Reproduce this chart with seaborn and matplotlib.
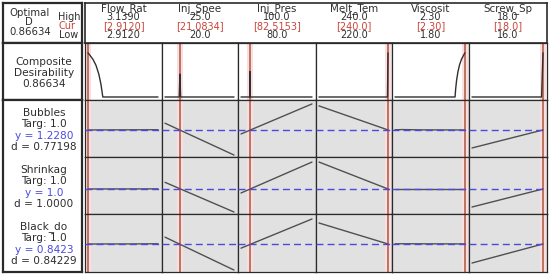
import matplotlib
matplotlib.use("Agg")
import matplotlib.pyplot as plt
import seaborn as sns
import numpy as np

# ---------------- data ----------------
factors = ["Flow_Rat", "Inj_Spee", "Inj_Pres", "Melt_Tem", "Viscosit", "Screw_Sp"]
high_labels = ["3.1390", "25.0", "100.0", "240.0", "2.30", "18.0"]
cur_labels = ["[2.9120]", "[21.0834]", "[82.5153]", "[240.0]", "[2.30]", "[18.0]"]
low_labels = ["2.9120", "20.0", "80.0", "220.0", "1.80", "16.0"]
low = [2.912, 20.0, 80.0, 220.0, 1.80, 16.0]
high = [3.139, 25.0, 100.0, 240.0, 2.30, 18.0]
cur = [2.912, 21.0834, 82.5153, 240.0, 2.30, 18.0]

optimal_d = "0.86634"

responses = ["Bubbles", "Shrinkag", "Black_do"]
targets = ["1.0", "1.0", "1.0"]
resp_y = [1.2280, 1.0, 0.8423]
resp_y_labels = ["1.2280", "1.0", "0.8423"]
resp_d_labels = ["0.77198", "1.0000", "0.84229"]

# composite desirability curves (x, d) per factor
comp_x = [
    [2.912, 2.918, 2.928, 2.938, 2.947, 2.954, 2.960, 3.139],
    [20.0, 21.03, 21.0834, 21.13, 25.0],
    [80.0, 82.45, 82.5153, 82.58, 100.0],
    [220.0, 239.85, 240.0],
    [1.80, 2.229, 2.233, 2.24, 2.25, 2.262, 2.275, 2.29, 2.30],
    [16.0, 17.96, 18.0],
]
comp_d = [
    [0.866, 0.82, 0.74, 0.62, 0.45, 0.25, 0.0, 0.0],
    [0.0, 0.0, 0.45, 0.0, 0.0],
    [0.0, 0.0, 0.50, 0.0, 0.0],
    [0.0, 0.0, 0.866],
    [0.0, 0.0, 0.15, 0.33, 0.50, 0.64, 0.74, 0.82, 0.866],
    [0.0, 0.0, 0.866],
]

# response curves (x, y) per factor
bubbles_x = [[2.912, 3.139], [20, 25], [80, 100], [220, 240], [1.8, 1.85, 2.0, 2.3], [16, 18]]
bubbles_y = [[1.228, 1.234], [1.40, 0.59], [1.126, 1.89], [1.84, 1.228], [1.232, 1.238, 1.230, 1.228], [0.77, 1.228]]
shrink_x = [[2.912, 3.139], [20, 25], [80, 100], [220, 240], [1.8, 2.3], [16, 18]]
shrink_y = [[1.0, 1.002], [1.14, 0.515], [0.915, 1.567], [1.567, 1.0], [1.0, 1.0], [0.62, 1.0]]
black_x = [[2.912, 3.05, 3.139], [20, 25], [80, 100], [220, 240], [1.8, 1.85, 2.3], [16, 18]]
black_y = [[0.842, 0.843, 0.846], [0.96, 0.393], [0.77, 1.273], [1.204, 0.8423], [0.845, 0.846, 0.843], [0.514, 0.8423]]
resp_x = [bubbles_x, shrink_x, black_x]
resp_curves = [bubbles_y, shrink_y, black_y]

# ---------------- layout ----------------
sns.set_style("white")
plt.rcParams["font.family"] = ["DejaVu Sans"]
W, H = 550, 277
fig = plt.figure(figsize=(W / 100, H / 100), dpi=100)
fig.patch.set_facecolor("white")

col_b = [85, 162, 238, 316, 392, 469, 547]
row_b = [43, 100, 157, 214, 272]
row_ylim = [(-0.059, 1.059), (0.54, 1.99), (0.473, 1.673), (0.359, 1.359)]

TXT = "#2e2e2e"
RED = "#c8453a"
CURC = "#a8583a"
PINK = "#fcdde2"
BLUE = "#4a4ae0"
GRID = "#2a2a2a"
GRAYBG = "#e1e1e1"
FS = 7
FSL = 7.6

def add_px_axes(x0, y0, x1, y1):
    return fig.add_axes([x0 / W, 1 - y1 / H, (x1 - x0) / W, (y1 - y0) / H])


def fx(px):
    return px / W


def fy(py):
    return 1 - py / H


# header box
hax = add_px_axes(85, 3, 547, 43)
hax.set_xticks([]); hax.set_yticks([])
for s in hax.spines.values():
    s.set_color(GRID); s.set_linewidth(1.2)

for c, name in enumerate(factors):
    cx = (col_b[c] + col_b[c + 1]) / 2
    fig.text(fx(cx), fy(8.5), name, ha="center", va="center", fontsize=FS + 0.4, color=TXT)
    fig.text(fx(cx), fy(17.5), high_labels[c], ha="center", va="center", fontsize=FS, color=TXT)
    fig.text(fx(cx), fy(26), cur_labels[c], ha="center", va="center", fontsize=FS, color=RED)
    fig.text(fx(cx), fy(34.5), low_labels[c], ha="center", va="center", fontsize=FS, color=TXT)

# left panel boxes
for (y0, y1) in [(3, 43), (43, 100), (100, 272)]:
    la = add_px_axes(3, y0, 82, y1)
    la.set_xticks([]); la.set_yticks([])
    for s in la.spines.values():
        s.set_color(GRID); s.set_linewidth(1.6)

fig.text(fx(30), fy(12.5), "Optimal", ha="center", va="center", fontsize=FS + 0.3, color=TXT)
fig.text(fx(29), fy(22), "D", ha="center", va="center", fontsize=FS + 0.3, color=TXT)
fig.text(fx(30), fy(32), optimal_d, ha="center", va="center", fontsize=FS + 0.3, color=TXT)
fig.text(fx(69), fy(17.5), "High", ha="center", va="center", fontsize=FS, color=TXT)
fig.text(fx(67), fy(26), "Cur", ha="center", va="center", fontsize=FS, color=RED)
fig.text(fx(69), fy(34.5), "Low", ha="center", va="center", fontsize=FS, color=TXT)

fig.text(fx(44), fy(62), "Composite", ha="center", va="center", fontsize=FSL, color=TXT)
fig.text(fx(44), fy(73), "Desirability", ha="center", va="center", fontsize=FSL, color=TXT)
fig.text(fx(44), fy(84), optimal_d, ha="center", va="center", fontsize=FSL, color=TXT)

for r, name in enumerate(responses):
    top = row_b[r + 1]
    base = top + 13
    fig.text(fx(44), fy(base), name, ha="center", va="center", fontsize=FSL, color=TXT)
    fig.text(fx(44), fy(base + 11.3), "Targ: " + targets[r], ha="center", va="center", fontsize=FSL, color=TXT)
    fig.text(fx(44), fy(base + 23), "y = " + resp_y_labels[r], ha="center", va="center", fontsize=FSL, color=BLUE)
    fig.text(fx(44), fy(base + 34), "d = " + resp_d_labels[r], ha="center", va="center", fontsize=FSL, color=TXT)

# grid cells
for r in range(4):
    for c in range(6):
        x0, x1 = col_b[c], col_b[c + 1]
        ax = add_px_axes(x0, row_b[r], x1, row_b[r + 1])
        ax.set_facecolor("white" if r == 0 else GRAYBG)
        rng = high[c] - low[c]
        wpx = x1 - x0
        inner = wpx - 7
        upp = rng / inner
        ax.set_xlim(low[c] - 3 * upp, high[c] + 4 * upp)
        ax.set_ylim(*row_ylim[r])
        ax.axvspan(cur[c] - 3 * upp, cur[c] + 3 * upp, color=PINK, lw=0, zorder=1)
        ax.axvline(cur[c], color=CURC, lw=1.1, zorder=2)
        if r == 0:
            sns.lineplot(x=comp_x[c], y=comp_d[c], ax=ax, color="#303030", lw=1.0,
                         estimator=None, sort=False, zorder=3)
        else:
            sns.lineplot(x=resp_x[r - 1][c], y=resp_curves[r - 1][c], ax=ax, color="#505050",
                         lw=1.0, estimator=None, sort=False, zorder=3)
            ax.axhline(resp_y[r - 1], color=BLUE, lw=1.0, ls=(0, (5, 3)), zorder=4)
        ax.set_xticks([]); ax.set_yticks([])
        ax.set_xlabel(""); ax.set_ylabel("")
        for s in ax.spines.values():
            s.set_color(GRID); s.set_linewidth(0.9)

fig.savefig("out.png", dpi=100, facecolor="white")
